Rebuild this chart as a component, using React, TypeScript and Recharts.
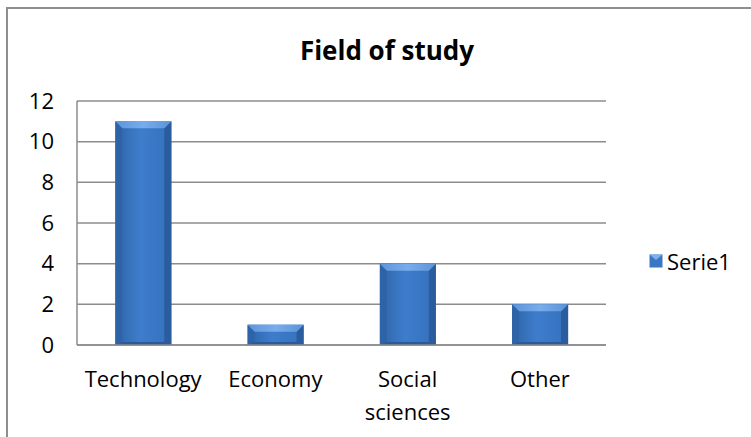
import { BarChart, Bar, XAxis, YAxis, CartesianGrid, Legend } from 'recharts';

const categories = ['Technology', 'Economy', 'Social sciences', 'Other'];
const serie1 = [11, 1, 4, 2];
const yTicks = [0, 2, 4, 6, 8, 10, 12];

const data = categories.map((name, i) => ({ name, Serie1: serie1[i] }));

const FONT = '"Open Sans", Lato, sans-serif';

// Beveled bar in the old Office style: shaded body, lighter top edge.
function BevelBar(props: any) {
  const { x, y, width, height } = props;
  if (!height || height <= 0) return null;
  const b = Math.min(7, height / 2, width / 4);
  const r = x + width;
  const btm = y + height;
  return (
    <g>
      <rect x={x} y={y} width={width} height={height} fill="url(#barBody)" />
      <polygon points={`${x},${y} ${x + b},${y + b} ${x + b},${btm - 3} ${x},${btm}`} fill="#2e63a8" />
      <polygon points={`${r},${y} ${r - b},${y + b} ${r - b},${btm - 3} ${r},${btm}`} fill="#2b5c9d" />
      <polygon points={`${x},${btm} ${x + b},${btm - 3} ${r - b},${btm - 3} ${r},${btm}`} fill="#2b5a96" />
      <polygon points={`${x},${y} ${r},${y} ${r - b},${y + b} ${x + b},${y + b}`} fill="url(#barTop)" />
    </g>
  );
}

function CategoryTick(props: any) {
  const { x, y, payload } = props;
  const words = String(payload.value).split(' ');
  const lines = words.length > 1 && payload.value.length > 12 ? words : [payload.value];
  return (
    <text x={x} y={y + 34} textAnchor="middle" fill="#000" fontFamily={FONT} fontSize={22}>
      {lines.map((line: string, i: number) => (
        <tspan key={line} x={x} dy={i === 0 ? 0 : 33}>
          {line}
        </tspan>
      ))}
    </text>
  );
}

function LegendContent() {
  return (
    <div style={{ display: 'flex', alignItems: 'center', fontFamily: FONT, fontSize: 22, color: '#000' }}>
      <svg width={14} height={14} style={{ marginRight: 4 }}>
        <rect x={0.5} y={0.5} width={13} height={13} fill="#3a76c4" />
        <polygon points="0.5,0.5 13.5,0.5 7,6" fill="#7fb0ea" />
      </svg>
      Serie1
    </div>
  );
}

export default function App() {
  return (
    <div style={{ position: 'fixed', left: 0, top: 0, width: 751, height: 437, background: '#fff', overflow: 'hidden' }}>
      <div
        style={{
          position: 'absolute',
          left: 6,
          top: 7,
          width: 800,
          height: 500,
          border: '2px solid #8e8e8e',
        }}
      />
      <div
        style={{
          position: 'absolute',
          left: 0,
          top: 32,
          width: 774,
          textAlign: 'center',
          fontFamily: FONT,
          fontWeight: 700,
          fontSize: 26,
          color: '#000',
        }}
      >
        Field of study
      </div>
      <BarChart
        width={751}
        height={437}
        data={data}
        margin={{ top: 101, right: 145, bottom: 62, left: 0 }}
        barCategoryGap="29%"
        style={{ position: 'absolute', left: 0, top: 0 }}
      >
        <defs>
          <linearGradient id="barBody" x1="0" y1="0" x2="1" y2="0">
            <stop offset="0%" stopColor="#2f64a8" />
            <stop offset="45%" stopColor="#3e7dcc" />
            <stop offset="100%" stopColor="#3470bc" />
          </linearGradient>
          <linearGradient id="barTop" x1="0" y1="0" x2="1" y2="0">
            <stop offset="0%" stopColor="#5b95da" />
            <stop offset="50%" stopColor="#78adec" />
            <stop offset="100%" stopColor="#5a93d8" />
          </linearGradient>
        </defs>
        <CartesianGrid vertical={false} stroke="#8c8c8c" strokeWidth={1.5} />
        <XAxis
          dataKey="name"
          interval={0}
          height={30}
          tickLine={false}
          axisLine={{ stroke: '#8c8c8c', strokeWidth: 1.5 }}
          tick={<CategoryTick />}
        />
        <YAxis
          width={77}
          domain={[0, 12]}
          ticks={yTicks}
          tickLine={false}
          axisLine={{ stroke: '#8c8c8c', strokeWidth: 1.5 }}
          tick={{ fill: '#000', fontFamily: FONT, fontSize: 22 }}
          tickMargin={17}
        />
        <Legend
          layout="horizontal"
          verticalAlign="middle"
          content={<LegendContent />}
          wrapperStyle={{ left: 649, top: 246, width: 'auto' }}
        />
        <Bar dataKey="Serie1" shape={<BevelBar />} isAnimationActive={false} />
      </BarChart>
    </div>
  );
}
